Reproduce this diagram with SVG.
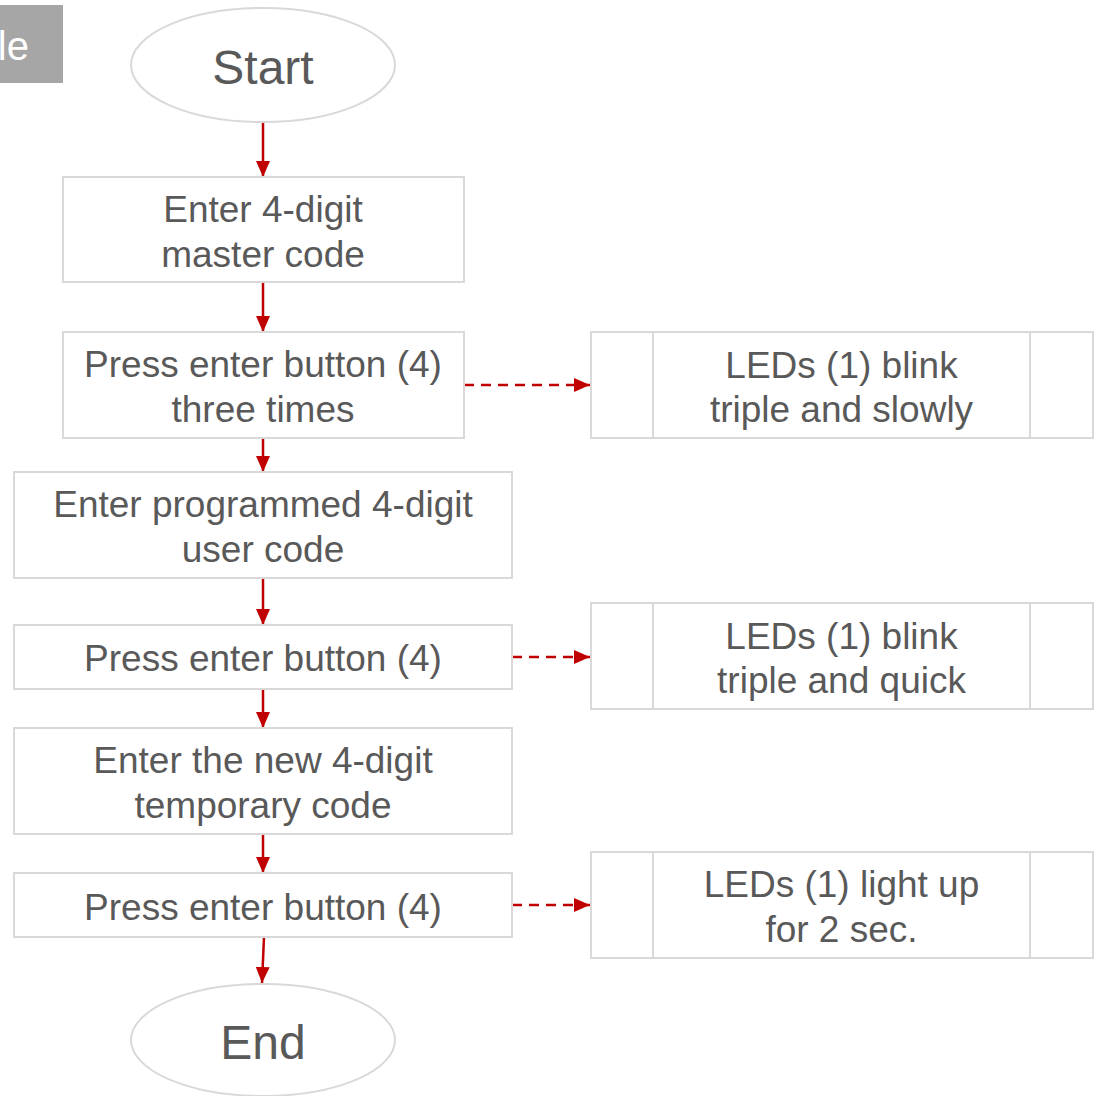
<svg xmlns="http://www.w3.org/2000/svg" width="1094" height="1096" viewBox="0 0 1094 1096">
<defs>
<style>
.n{fill:#fff;stroke:#d9d9d9;stroke-width:2}
.t{font-family:"Liberation Sans",Arial,sans-serif;font-size:37px;fill:#595959;text-anchor:middle}
.big{font-size:48px}
.c{stroke:#c00000;stroke-width:2.5;fill:none}
.d{stroke-dasharray:10 7}
</style>
<marker id="ah" markerUnits="userSpaceOnUse" markerWidth="16" markerHeight="16" viewBox="0 0 16 16" refX="16" refY="8" orient="auto">
<path d="M0,1 L16,8 L0,15 Z" fill="#c00000"/>
</marker>
</defs>
<rect width="1094" height="1096" fill="#fff"/>
<g id="title">
<rect x="0" y="5" width="63" height="78" fill="#a6a6a6"/>
<text x="29" y="60" style="font-family:'Liberation Sans',Arial,sans-serif;font-size:40px;fill:#fff;text-anchor:end">le</text>
</g>
<g id="connectors">
<line class="c" x1="263" y1="122" x2="263" y2="177" marker-end="url(#ah)"/>
<line class="c" x1="263" y1="282" x2="263" y2="332" marker-end="url(#ah)"/>
<line class="c" x1="263" y1="438" x2="263" y2="472" marker-end="url(#ah)"/>
<line class="c" x1="263" y1="578" x2="263" y2="625" marker-end="url(#ah)"/>
<line class="c" x1="263" y1="689" x2="263" y2="728" marker-end="url(#ah)"/>
<line class="c" x1="263" y1="834" x2="263" y2="873" marker-end="url(#ah)"/>
<line class="c" x1="264" y1="937" x2="262" y2="983" marker-end="url(#ah)"/>
<line class="c d" x1="464" y1="385" x2="590" y2="385" marker-end="url(#ah)"/>
<line class="c d" x1="512" y1="657" x2="590" y2="657" marker-end="url(#ah)"/>
<line class="c d" x1="512" y1="905" x2="590" y2="905" marker-end="url(#ah)"/>
</g>
<g id="start">
<ellipse class="n" cx="263" cy="65" rx="132" ry="57"/>
<text class="t big" x="263" y="84">Start</text>
</g>
<g id="step1">
<rect class="n" x="63" y="177" width="401" height="105"/>
<text class="t" x="263" y="222">Enter 4-digit</text>
<text class="t" x="263" y="267">master code</text>
</g>
<g id="step2">
<rect class="n" x="63" y="332" width="401" height="106"/>
<text class="t" x="263" y="377">Press enter button (4)</text>
<text class="t" x="263" y="422">three times</text>
</g>
<g id="led1">
<rect class="n" x="591" y="332" width="502" height="106"/>
<line class="n" x1="653" y1="332" x2="653" y2="438"/>
<line class="n" x1="1030" y1="332" x2="1030" y2="438"/>
<text class="t" x="841.5" y="378">LEDs (1) blink</text>
<text class="t" x="841.5" y="422">triple and slowly</text>
</g>
<g id="step3">
<rect class="n" x="14" y="472" width="498" height="106"/>
<text class="t" x="263" y="517">Enter programmed 4-digit</text>
<text class="t" x="263" y="562">user code</text>
</g>
<g id="step4">
<rect class="n" x="14" y="625" width="498" height="64"/>
<text class="t" x="263" y="671">Press enter button (4)</text>
</g>
<g id="led2">
<rect class="n" x="591" y="603" width="502" height="106"/>
<line class="n" x1="653" y1="603" x2="653" y2="709"/>
<line class="n" x1="1030" y1="603" x2="1030" y2="709"/>
<text class="t" x="841.5" y="649">LEDs (1) blink</text>
<text class="t" x="841.5" y="693">triple and quick</text>
</g>
<g id="step5">
<rect class="n" x="14" y="728" width="498" height="106"/>
<text class="t" x="263" y="773">Enter the new 4-digit</text>
<text class="t" x="263" y="818">temporary code</text>
</g>
<g id="step6">
<rect class="n" x="14" y="873" width="498" height="64"/>
<text class="t" x="263" y="920">Press enter button (4)</text>
</g>
<g id="led3">
<rect class="n" x="591" y="852" width="502" height="106"/>
<line class="n" x1="653" y1="852" x2="653" y2="958"/>
<line class="n" x1="1030" y1="852" x2="1030" y2="958"/>
<text class="t" x="841.5" y="897">LEDs (1) light up</text>
<text class="t" x="841.5" y="942">for 2 sec.</text>
</g>
<g id="end">
<ellipse class="n" cx="263" cy="1040" rx="132" ry="56"/>
<text class="t big" x="263" y="1059">End</text>
</g>
</svg>
